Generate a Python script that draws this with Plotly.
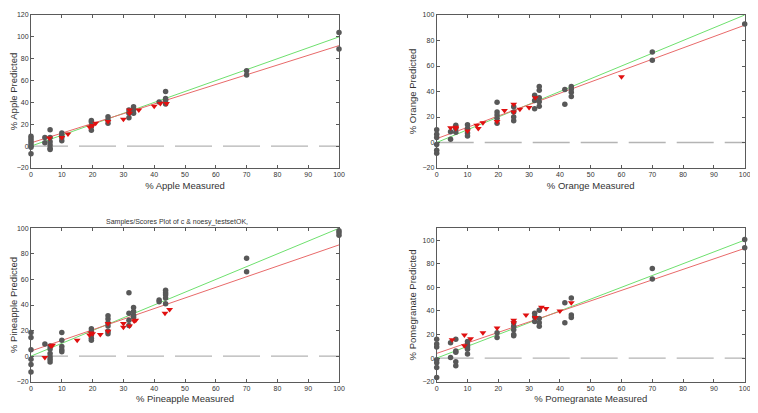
import plotly.graph_objects as go

# page is 758x413; the html body adds an 8px margin, so the figure is 742x397 offset by 8px
OFF = 8
W, H = 758 - 2 * OFF, 413 - 2 * OFF

# ---------------- data ----------------
line_x = [0, 100]

apple_cal_x = [0, 0, 0, 0, 0, 0, 0, 4.5, 4.5, 6.2, 6.2, 6.2, 6.2, 6.2, 6.2, 10, 10, 10, 10,
               19.6, 19.6, 19.6, 19.6, 25, 25, 25, 31.8, 31.8, 31.8, 33.3, 33.3, 33.3,
               41.6, 43.7, 43.7, 43.7, 43.7, 70, 70, 100, 100]
apple_cal_y = [9, 7, 5, 3, 1, -1, -7, 8, 3, 15, 8, 4, 1, -2, -3, 12, 10, 8, 5,
               23.5, 22, 18, 14.5, 27, 24, 21, 33, 30, 26, 36, 33, 30,
               40.5, 50, 43.5, 42, 38.5, 69, 65, 104, 89]
apple_val_x = [6, 10, 12, 19, 20, 21, 25, 30, 32, 32, 35, 40, 42, 44]
apple_val_y = [7.5, 8, 11, 17.5, 19, 21, 22.5, 24.5, 30, 33, 33, 36.5, 39, 39]
apple_fit = [3.0, 0.89]     # intercept, slope
apple_yrange = [-20, 120]

orange_cal_x = [0, 0, 0, 0, 0, 0, 4.5, 4.5, 6.2, 6.2, 6.2, 10, 10, 10, 10,
                19.6, 19.6, 19.6, 19.6, 19.6, 25, 25, 25, 25, 31.8, 31.8, 31.8,
                33.3, 33.3, 33.3, 33.3, 33.3, 41.6, 41.6, 43.7, 43.7, 43.7, 43.7,
                70, 70, 100]
orange_cal_y = [10, 6.5, 4, -1.5, -6, -8.5, 8.5, 2.5, 13.5, 11, 8, 14, 11, 7.5, 5,
                31.5, 24, 21.5, 19, 15, 28, 24, 20, 17, 37, 33, 26.5,
                44, 41, 35, 32, 28.5, 41.5, 30, 44, 42, 39.5, 36,
                71, 64.5, 93]
orange_val_x = [4.5, 6.2, 6.2, 10, 13, 13.5, 15, 19.6, 22, 25, 25, 27, 30, 32, 60]
orange_val_y = [11.5, 12, 11, 9, 13.5, 11, 15.5, 16.5, 25, 30, 24, 26, 27.5, 35, 51.5]
orange_fit = [3.0, 0.89]
orange_yrange = [-20, 100]

pine_cal_x = [0, 0, 0, 0, 0, 0, 4.5, 6.2, 6.2, 6.2, 6.2, 6.2, 6.2,
              10, 10, 10, 10, 10, 19.6, 19.6, 19.6, 19.6, 19.6,
              25, 25, 25, 25, 25, 25, 31.8, 31.8, 31.8, 31.8,
              33.3, 33.3, 33.3, 33.3, 41.6, 41.6, 43.7, 43.7, 43.7, 43.7, 43.7,
              70, 70, 100, 100, 100]
pine_cal_y = [18.5, 14.5, 5, -2.5, -6.5, -12.5, 9.5, 8, 5.5, 2, -0.5, -2.5, -4.5,
              18.5, 12.5, 7.5, 5, 3.5, 21.5, 19, 16.5, 14, 12.5,
              31.5, 29, 26, 23.5, 19.5, 17.5, 49.5, 33.5, 28, 24,
              38, 35, 32, 30.5, 44, 42.5, 51.5, 49.5, 48, 45.5, 41,
              76.5, 66, 98, 96.5, 94.5]
pine_val_x = [4.5, 6.5, 7, 15, 19, 19.5, 20, 22.5, 25, 25, 30, 30, 32, 33.5, 34, 43.5, 45]
pine_val_y = [-1, 8, 8.5, 12.5, 16.5, 18, 17.5, 17, 25.5, 19.5, 25.5, 22.5, 23.5, 27.5, 28, 33.5, 36.5]
pine_fit = [4.0, 0.83]
pine_yrange = [-20, 100]

pome_cal_x = [0, 0, 0, 0, 0, 0, 0, 4.5, 4.5, 6.2, 6.2, 6.2, 6.2, 6.2,
              10, 10, 10, 10, 10, 19.6, 19.6, 25, 25, 25, 25, 25,
              31.8, 31.8, 31.8, 33.3, 33.3, 33.3, 33.3, 41.6, 41.6,
              43.7, 43.7, 43.7, 70, 70, 100, 100]
pome_cal_y = [16, 12, 9.5, -1.5, -4, -8, -16.5, 13, 0.5, 16, 6, 5, -3, -6.5,
              14, 11.5, 9.5, 7.5, 3.5, 21.5, 17.5, 30, 27, 24, 20, 19,
              38, 35, 31, 40.5, 33.5, 30, 27, 47, 30,
              51, 36.5, 34.5, 76, 67, 100.5, 93.5]
pome_val_x = [5, 9, 9, 11, 15, 19.6, 25, 25, 29, 32, 34, 35.5, 40, 43.7]
pome_val_y = [15.5, 19.5, 10.5, 16.5, 21.5, 25.5, 32, 30, 36.5, 34.5, 43, 42, 40, 47]
pome_fit = [4.0, 0.89]
pome_yrange = [-20, 110]

panels = [
    ("Apple", apple_cal_x, apple_cal_y, apple_val_x, apple_val_y, apple_fit, apple_yrange),
    ("Orange", orange_cal_x, orange_cal_y, orange_val_x, orange_val_y, orange_fit, orange_yrange),
    ("Pineapple", pine_cal_x, pine_cal_y, pine_val_x, pine_val_y, pine_fit, pine_yrange),
    ("Pomegranate", pome_cal_x, pome_cal_y, pome_val_x, pome_val_y, pome_fit, pome_yrange),
]

title_text = "Samples/Scores Plot of c & noesy_testsetOK,"

# ---------------- layout (page-pixel boxes) ----------------
boxes = [  # x0, x1, ytop, ybottom in page pixels
    (31, 339, 15, 168),
    (436.7, 744.7, 15, 168),
    (31, 339, 228.3, 381.7),
    (436.7, 744.7, 228.3, 381.7),
]


def px(v):
    return (v - OFF) / W


def py(v):
    return 1 - (v - OFF) / H


fig = go.Figure()
font_family = "Liberation Sans, Arial, sans-serif"
axis_color = "#5a5a5a"

for i, (name, cx, cy, vx, vy, fit, yr) in enumerate(panels):
    n = "" if i == 0 else str(i + 1)
    xa, ya = "x" + n, "y" + n
    # zero line
    fig.add_trace(go.Scatter(x=line_x, y=[0, 0], mode="lines", xaxis=xa, yaxis=ya,
                             line=dict(color="#b4b4b4", width=1.3, dash="37px,11px"),
                             showlegend=False, hoverinfo="skip"))
    # identity line
    fig.add_trace(go.Scatter(x=line_x, y=line_x, mode="lines", xaxis=xa, yaxis=ya,
                             line=dict(color="#6ee06e", width=1), showlegend=False))
    # fit line
    fit_y = [fit[0] + fit[1] * v for v in line_x]
    fig.add_trace(go.Scatter(x=line_x, y=fit_y, mode="lines", xaxis=xa, yaxis=ya,
                             line=dict(color="#e86a6a", width=1), showlegend=False))
    # calibration points
    fig.add_trace(go.Scatter(x=cx, y=cy, mode="markers", xaxis=xa, yaxis=ya,
                             marker=dict(symbol="circle", size=5.5, color="#585858"),
                             showlegend=False, cliponaxis=False))
    # validation points
    fig.add_trace(go.Scatter(x=vx, y=vy, mode="markers", xaxis=xa, yaxis=ya,
                             marker=dict(symbol="triangle-down", size=6, color="#e01010"),
                             showlegend=False, cliponaxis=False))

    x0, x1, yt, yb = boxes[i]
    common = dict(showline=True, linecolor=axis_color, linewidth=1, mirror="ticks",
                  ticks="inside", ticklen=3, tickcolor=axis_color, showgrid=False,
                  zeroline=False, automargin=False, ticklabeloverflow="allow",
                  tickfont=dict(size=7, color="#333333", family=font_family))
    fig.update_layout(**{
        "xaxis" + n: dict(domain=[px(x0), px(x1)], range=[0, 100], dtick=10,
                          anchor=ya,
                          title=dict(text=f"% {name} Measured", standoff=4,
                                     font=dict(size=9.5, color="#333333", family=font_family)),
                          **common),
        "yaxis" + n: dict(domain=[py(yb), py(yt)], range=yr, dtick=20,
                          anchor=xa,
                          title=dict(text=f"% {name} Predicted", standoff=4,
                                     font=dict(size=9.5, color="#333333", family=font_family)),
                          **common),
    })

fig.add_annotation(text=title_text, xref="paper", yref="paper",
                   x=px(176.7), y=py(221.7), showarrow=False,
                   font=dict(size=7, color="#333333", family=font_family),
                   xanchor="center", yanchor="middle")

fig.update_layout(width=W, height=H, margin=dict(l=0, r=0, t=0, b=0),
                  paper_bgcolor="white", plot_bgcolor="white")

fig.write_html("out.html")
